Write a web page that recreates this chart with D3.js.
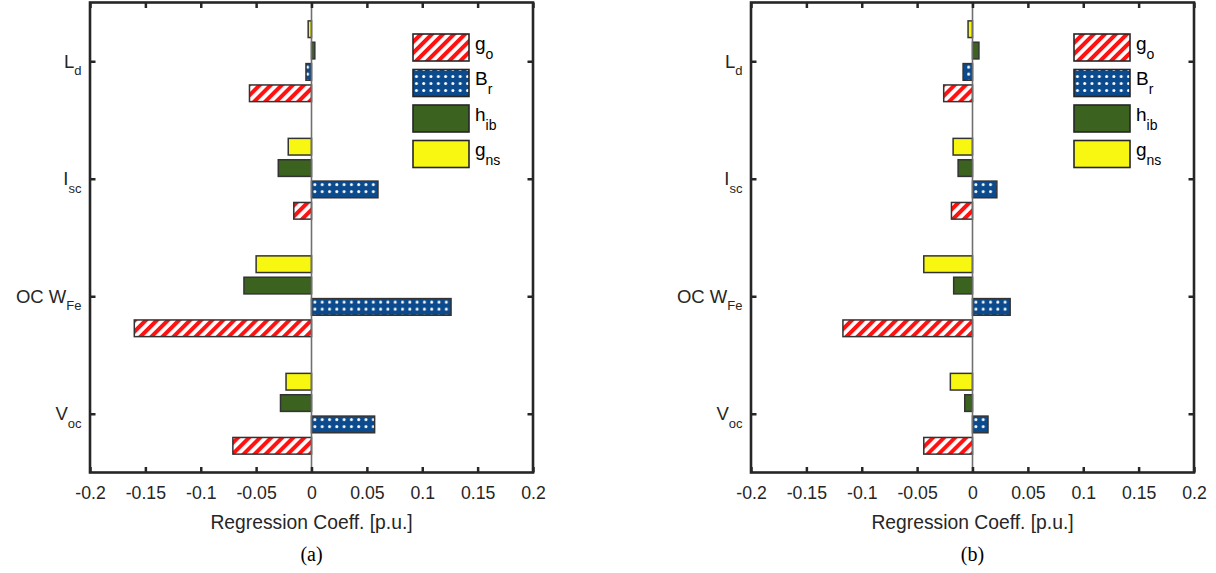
<!DOCTYPE html>
<html>
<head>
<meta charset="utf-8">
<script src="https://cdn.jsdelivr.net/npm/d3@7/dist/d3.min.js"></script>
<style>
  html, body { margin: 0; padding: 0; background: #ffffff; }
  svg { display: block; }
</style>
</head>
<body>
<svg id="chart" width="1216" height="573"></svg>
<script>
// ---------------- DATA ----------------
// categories, bottom-to-top (MATLAB barh order 1..4)
const categoryMain = ["V", "OC W", "I", "L"];
const categorySub  = ["oc", "Fe", "sc", "d"];

// series (within each group, bottom-to-top)
const seriesMain = ["g", "B", "h", "g"];
const seriesSub  = ["o", "r", "ib", "ns"];

// panel (a) values, per category [V_oc, OC W_Fe, I_sc, L_d]
const goA  = [-0.071, -0.160, -0.016, -0.056];
const brA  = [ 0.057,  0.126,  0.060, -0.005];
const hibA = [-0.028, -0.061, -0.030,  0.003];
const gnsA = [-0.023, -0.050, -0.021, -0.003];

// panel (b) values
const goB  = [-0.044, -0.117, -0.019, -0.026];
const brB  = [ 0.014,  0.034,  0.022, -0.0085];
const hibB = [-0.007, -0.017, -0.013,  0.0058];
const gnsB = [-0.020, -0.044, -0.0175, -0.004];

const xTicks      = [-0.2, -0.15, -0.1, -0.05, 0, 0.05, 0.1, 0.15, 0.2];
const xTickLabels = ["-0.2", "-0.15", "-0.1", "-0.05", "0", "0.05", "0.1", "0.15", "0.2"];
const xLabel = "Regression Coeff. [p.u.]";
const captions = ["(a)", "(b)"];

// ---------------- STYLE / LAYOUT ----------------
const FONT = "'Liberation Sans', Arial, Helvetica, sans-serif";
const SERIF = "'Liberation Serif', 'Times New Roman', serif";
const AXIS_COLOR = "#262626";
const seriesFill = ["red-stripes", "blue-dots", "#3b621f", "#f7f712"];

const svg = d3.select("#chart");
const defs = svg.append("defs");

// red diagonal stripe pattern
const stripe = defs.append("pattern")
  .attr("id", "stripes")
  .attr("patternUnits", "userSpaceOnUse")
  .attr("width", 7.8).attr("height", 7.8)
  .attr("patternTransform", "rotate(45)");
stripe.append("rect").attr("width", 7.8).attr("height", 7.8).attr("fill", "#ffffff");
stripe.append("rect").attr("width", 4.0).attr("height", 7.8).attr("fill", "#ff1111");

let patCount = 0;
function dotPattern(x0, y0) {
  const id = "dots" + (patCount++);
  const p = defs.append("pattern")
    .attr("id", id)
    .attr("patternUnits", "userSpaceOnUse")
    .attr("x", x0).attr("y", y0)
    .attr("width", 7.3).attr("height", 7);
  p.append("rect").attr("width", 7.3).attr("height", 7).attr("fill", "#0b4a8c");
  p.append("circle").attr("cx", 3.4).attr("cy", 3.5).attr("r", 1.5).attr("fill", "#ffffff");
  return "url(#" + id + ")";
}

function fillFor(s, x0, y0) {
  if (s === 0) return "url(#stripes)";
  if (s === 1) return dotPattern(x0, y0);
  return seriesFill[s];
}

const panels = [
  { left: 90,  right: 533,  values: [goA, brA, hibA, gnsA], caption: captions[0] },
  { left: 751, right: 1194, values: [goB, brB, hibB, gnsB], caption: captions[1] }
];
const plotTop = 2.5, plotBottom = 472.5;
const groupStep = 0.1818;
const barFrac = 0.78;
const tickLen = 5.5;

function subText(sel, main, sub, mainSize, subSize, subDy) {
  sel.append("tspan").text(main).attr("font-size", mainSize);
  sel.append("tspan").text(sub).attr("font-size", subSize).attr("dy", subDy);
}

panels.forEach(P => {
  const x = d3.scaleLinear().domain([-0.2, 0.2]).range([P.left, P.right]);
  const y = d3.scaleLinear().domain([0.5, 4.5]).range([plotBottom, plotTop]);
  const g = svg.append("g");

  // bars
  const barH = Math.abs(y(0) - y(groupStep * barFrac));
  const bars = [];
  P.values.forEach((arr, s) => {
    arr.forEach((v, c) => {
      const yc = y((c + 1) + (s - 1.5) * groupStep);
      bars.push({ s, c, v, yc });
    });
  });
  g.selectAll("rect.bar").data(bars).enter().append("rect")
    .attr("class", "bar")
    .attr("x", d => Math.min(x(0), x(d.v)))
    .attr("y", d => d.yc - barH / 2)
    .attr("width", d => Math.abs(x(d.v) - x(0)))
    .attr("height", barH)
    .attr("fill", d => fillFor(d.s, x(0), d.yc - barH / 2))
    .attr("stroke", "#333333")
    .attr("stroke-width", 1.5);

  // zero baseline
  g.append("line")
    .attr("x1", x(0)).attr("x2", x(0))
    .attr("y1", plotTop).attr("y2", plotBottom)
    .attr("stroke", "#707070").attr("stroke-width", 1.6);

  // axes
  const styleTicks = a => {
    a.select(".domain").remove();
    a.selectAll(".tick line").attr("stroke", AXIS_COLOR).attr("stroke-width", 2.5);
  };
  g.append("g").attr("transform", `translate(0,${plotBottom})`)
    .call(d3.axisBottom(x).tickValues(xTicks).tickSizeInner(-tickLen).tickSizeOuter(0)
      .tickFormat((d, i) => xTickLabels[i]))
    .call(styleTicks)
    .call(a => a.selectAll(".tick text")
      .attr("y", 26.5).attr("dy", null)
      .attr("fill", "#262626")
      .attr("font-family", FONT).attr("font-size", 17.7));
  g.append("g").attr("transform", `translate(0,${plotTop})`)
    .call(d3.axisTop(x).tickValues(xTicks).tickSizeInner(-tickLen).tickSizeOuter(0).tickFormat(""))
    .call(styleTicks);
  const yl = g.append("g").attr("transform", `translate(${P.left},0)`)
    .call(d3.axisLeft(y).tickValues([1, 2, 3, 4]).tickSizeInner(-tickLen).tickSizeOuter(0).tickFormat(""))
    .call(styleTicks);
  yl.selectAll(".tick").each(function (d) {
    const t = d3.select(this).append("text")
      .attr("x", -8.5).attr("y", 6)
      .attr("text-anchor", "end")
      .attr("fill", "#262626")
      .attr("font-family", FONT);
    subText(t, categoryMain[d - 1], categorySub[d - 1], 18.5, 13, 7.5);
  });
  g.append("g").attr("transform", `translate(${P.right},0)`)
    .call(d3.axisRight(y).tickValues([1, 2, 3, 4]).tickSizeInner(-tickLen).tickSizeOuter(0).tickFormat(""))
    .call(styleTicks);

  // box
  g.append("rect")
    .attr("x", P.left).attr("y", plotTop)
    .attr("width", P.right - P.left).attr("height", plotBottom - plotTop)
    .attr("fill", "none").attr("stroke", AXIS_COLOR).attr("stroke-width", 2.6);

  // x label
  g.append("text")
    .attr("x", (P.left + P.right) / 2).attr("y", 529)
    .attr("text-anchor", "middle")
    .attr("fill", "#262626")
    .attr("font-family", FONT).attr("font-size", 19.3)
    .text(xLabel);

  // caption
  g.append("text")
    .attr("x", (P.left + P.right) / 2).attr("y", 561)
    .attr("text-anchor", "middle")
    .attr("fill", "#000000")
    .attr("font-family", SERIF).attr("font-size", 20)
    .text(P.caption);

  // legend (top-to-bottom: g_o, B_r, h_ib, g_ns)
  const lx = P.left + 323, ly0 = 34, lstep = 35.5, lw = 56, lh = 27;
  const order = [0, 1, 2, 3];
  order.forEach((s, k) => {
    const yy = ly0 + k * lstep;
    g.append("rect")
      .attr("x", lx).attr("y", yy).attr("width", lw).attr("height", lh)
      .attr("fill", fillFor(s, lx, yy + 3.5))
      .attr("stroke", "#262626").attr("stroke-width", 1.6);
    const t = g.append("text")
      .attr("x", lx + lw + 6).attr("y", yy + lh / 2 + 2)
      .attr("fill", "#000000")
      .attr("font-family", FONT);
    subText(t, seriesMain[s], seriesSub[s], 19, 14, 9);
  });
});
</script>
</body>
</html>
